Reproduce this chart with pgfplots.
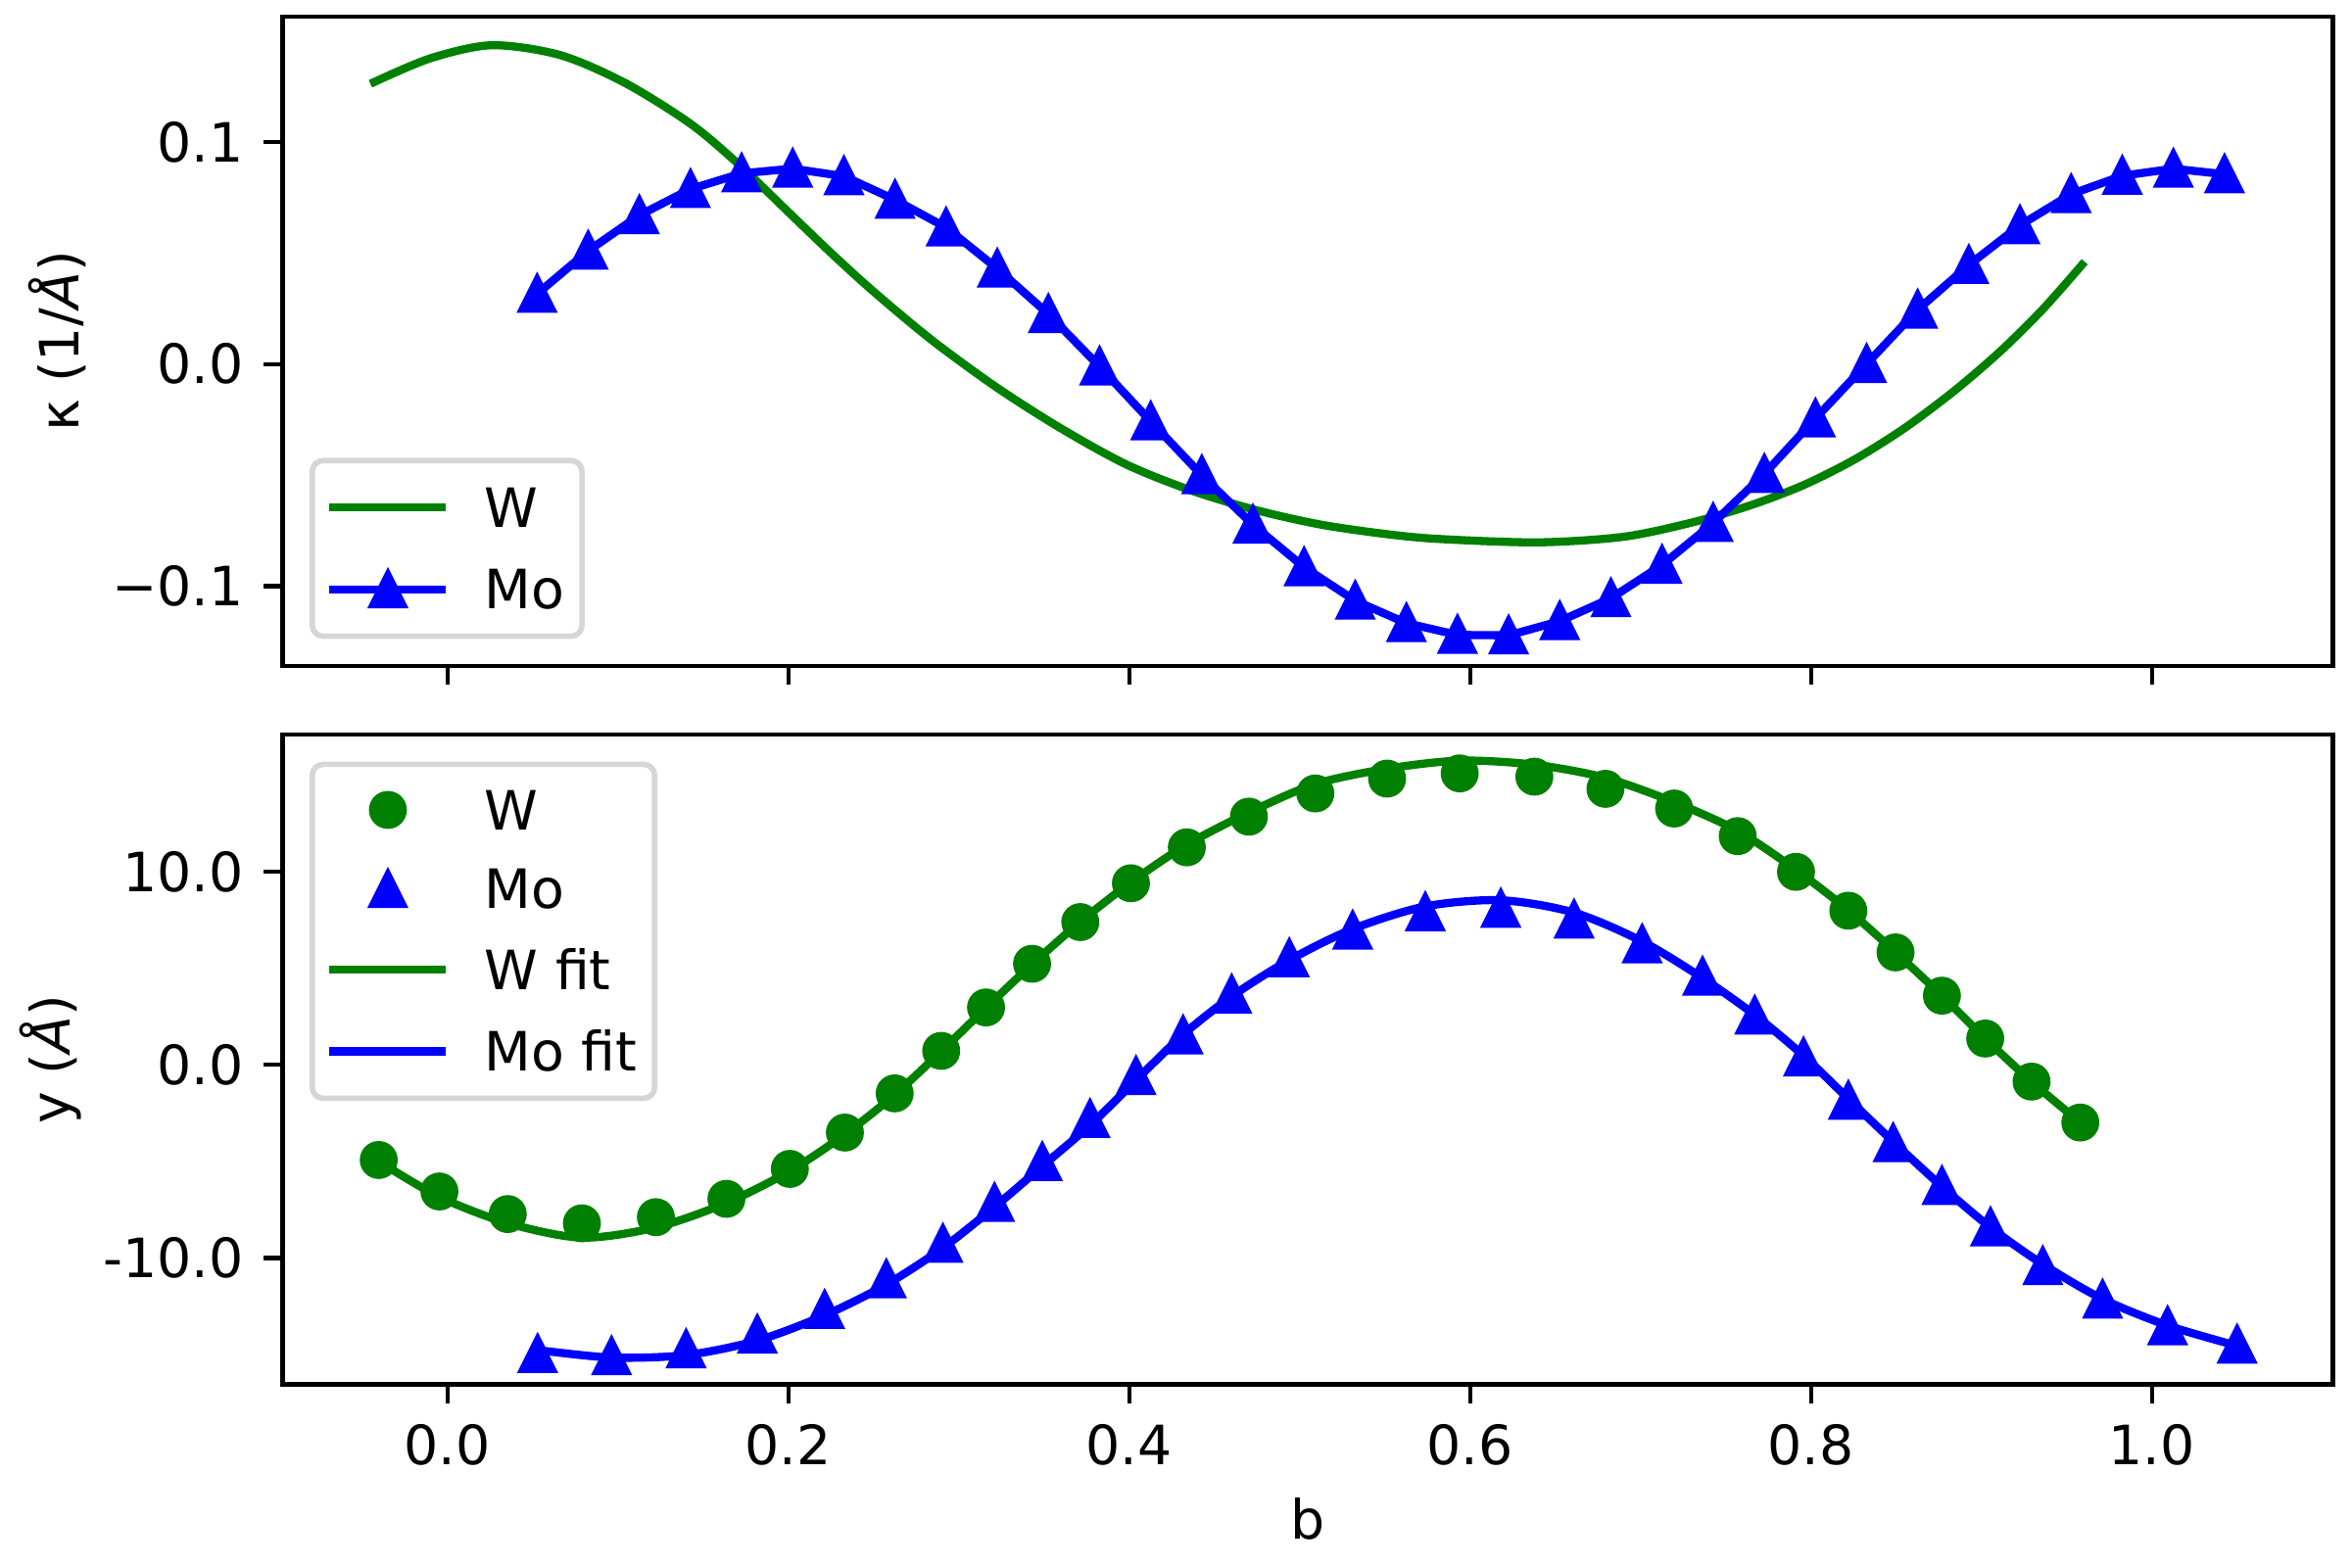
\documentclass[border=0pt]{standalone}
\usepackage{fontspec}
\setmainfont{DejaVu Sans}[ItalicFont={DejaVu Sans Oblique}]
\usepackage{pgfplots}
\pgfplotsset{compat=1.18}
\definecolor{mplgreen}{HTML}{008000}
\definecolor{mplblue}{HTML}{0000FF}
\definecolor{legedge}{HTML}{D6D6D6}

\pgfdeclareplotmark{mtri}{%
  \pgfpathmoveto{\pgfqpoint{0pt}{\pgfplotmarksize}}%
  \pgfpathlineto{\pgfqpoint{-\pgfplotmarksize}{-\pgfplotmarksize}}%
  \pgfpathlineto{\pgfqpoint{\pgfplotmarksize}{-\pgfplotmarksize}}%
  \pgfpathclose
  \pgfusepathqfillstroke}

\pgfplotsset{
  mplaxis/.style={
    scale only axis, width=378.18pt, height=119.84pt,
    xmin=-0.0968, xmax=1.1062,
    axis line style={line width=0.8pt, black},
    tick style={line width=0.8pt, black},
    major tick length=3.5pt,
    tick align=outside,
    tick pos=left,
    xtick={0,0.2,0.4,0.6,0.8,1.0},
    minor tick num=0,
    xticklabel style={anchor=north, inner sep=0pt, yshift=-3.8pt},
    yticklabel style={anchor=east, inner sep=0pt, xshift=-3.5pt},
    legend image code/.code={%
      \path (0pt,-4.9pt) (20pt,4.9pt);
      \draw[mark repeat=2, mark phase=2, #1] plot coordinates {(0pt,0pt) (10pt,0pt) (20pt,0pt)};},
    legend cell align=left,
    legend style={draw=legedge, line width=1pt, rounded corners=2pt, fill=white,
      inner xsep=3.2pt, inner ysep=3.0pt, row sep=3.8pt, column sep=7.1pt,
      nodes={inner sep=0pt, text height=7.3pt, text depth=0pt}},
  },
  trimark/.style={mark=mtri, mark size=3pt, mark options={solid, line width=1pt, line join=miter, sharp corners, fill=mplblue, draw=mplblue}},
  circmark/.style={mark=*, mark size=3pt, mark options={solid, line width=1pt, sharp corners, fill=mplgreen, draw=mplgreen}},
}

\begin{document}
\fontsize{10pt}{12pt}\selectfont
\begin{tikzpicture}
\path[use as bounding box] (-52.09pt,-33.73pt) rectangle (381.52pt,255.35pt);

% ---------- top panel ----------
\begin{axis}[mplaxis, at={(0pt,132.49pt)}, anchor=south west,
  ymin=-0.1360, ymax=0.1566,
  ytick={-0.1,0,0.1}, yticklabels={−0.1,0.0,0.1},
  xticklabels={},
  ylabel={κ (1/\textit{Å})},
  every axis y label/.style={at={(axis description cs:-0.0994,0.5)}, anchor=base, rotate=90},
  legend style={at={(0,0)}, anchor=south west, xshift=5pt, yshift=5pt}]
\addplot[color=mplgreen, line width=1.5pt, line cap=rect, line join=round, smooth] coordinates {
(-0.043,0.1270) (-0.010,0.1377) (0.026,0.1436) (0.066,0.1392) (0.104,0.1267)
(0.1425,0.1083) (0.171,0.0899) (0.200,0.0685) (0.225,0.0501) (0.2495,0.0330) (0.284,0.0109)
(0.322,-0.0104) (0.360,-0.0290) (0.3985,-0.0453) (0.437,-0.0571) (0.475,-0.0659)
(0.513,-0.0724) (0.551,-0.0766) (0.582,-0.0788) (0.640,-0.0803) (0.690,-0.0778)
(0.7305,-0.0713) (0.765,-0.0635) (0.796,-0.0544) (0.826,-0.0428) (0.855,-0.0288)
(0.884,-0.0121) (0.911,0.0057) (0.936,0.0247) (0.959,0.0447)
};
\addplot[color=mplblue, line width=1.5pt, line cap=rect, line join=round, trimark] coordinates {
(0.0526,0.0316) (0.0826,0.0510) (0.1126,0.0670) (0.1426,0.0788) (0.1726,0.0859)
(0.2026,0.0880) (0.2326,0.0846) (0.2626,0.0740) (0.2926,0.0615) (0.3226,0.0430)
(0.3526,0.0225) (0.3826,-0.0011) (0.4126,-0.0258) (0.4426,-0.0501) (0.4726,-0.0724)
(0.5026,-0.0915) (0.5326,-0.1066) (0.5626,-0.1167) (0.5926,-0.1220) (0.6226,-0.1222)
(0.6526,-0.1158) (0.6826,-0.1055) (0.7126,-0.0905) (0.7426,-0.0716) (0.7726,-0.0495)
(0.8026,-0.0245) (0.8326,0.0000) (0.8626,0.0245) (0.8926,0.0446) (0.9226,0.0625)
(0.9526,0.0765) (0.9826,0.0848) (1.0126,0.0880) (1.0426,0.0855)
};
\legend{W, Mo}
\end{axis}

% ---------- bottom panel ----------
\begin{axis}[mplaxis, at={(0pt,0pt)}, anchor=south west,
  ymin=-16.54, ymax=17.10,
  ytick={-10,0,10}, yticklabels={-10.0,0.0,10.0},
  xticklabels={0.0,0.2,0.4,0.6,0.8,1.0},
  xlabel={b},
  ylabel={y (\textit{Å})},
  every axis x label/.style={at={(axis description cs:0.5,0)}, anchor=base, yshift=-28.6pt},
  every axis y label/.style={at={(axis description cs:-0.1037,0.5)}, anchor=base, rotate=90},
  legend style={at={(0,1)}, anchor=north west, xshift=5pt, yshift=-5pt}]
\addplot[only marks, color=mplgreen, circmark] coordinates {
(-0.0403,-4.93) (-0.0047,-6.56) (0.0354,-7.73) (0.0789,-8.21) (0.1223,-7.89)
(0.1637,-6.94) (0.2009,-5.39) (0.2332,-3.51) (0.2624,-1.48) (0.2897,0.72)
(0.3160,2.97) (0.3430,5.23) (0.3713,7.39) (0.4010,9.40) (0.4338,11.26)
(0.4702,12.85) (0.5092,14.05) (0.5513,14.82) (0.5939,15.09) (0.6377,14.92)
(0.6794,14.29) (0.7197,13.27) (0.7570,11.84) (0.7912,9.99) (0.8219,7.98)
(0.8496,5.82) (0.8768,3.58) (0.9022,1.36) (0.9294,-0.87) (0.9580,-2.99)
};
\addplot[only marks, color=mplblue, trimark] coordinates {
(0.0529,-14.98) (0.0963,-15.09) (0.1400,-14.73) (0.1818,-13.97) (0.2213,-12.70)
(0.2575,-11.11) (0.2907,-9.27) (0.3210,-7.15) (0.3490,-5.03) (0.3770,-2.81)
(0.4040,-0.59) (0.4316,1.52) (0.4601,3.64) (0.4939,5.51) (0.5311,6.95)
(0.5737,7.90) (0.6180,8.08) (0.6610,7.52) (0.7009,6.24) (0.7364,4.56)
(0.7670,2.54) (0.7956,0.38) (0.8219,-1.86) (0.8482,-4.06) (0.8768,-6.28)
(0.9053,-8.42) (0.9360,-10.43) (0.9711,-12.16) (1.0092,-13.54) (1.0500,-14.49)
};
\addplot[color=mplgreen, line width=1.5pt, line cap=rect, line join=round, smooth] coordinates {
(-0.0403,-5.0) (-0.0047,-6.84) (0.0354,-8.2) (0.0789,-8.95) (0.1223,-8.42)
(0.1637,-7.15) (0.2009,-5.5) (0.2332,-3.6) (0.2624,-1.55) (0.2897,0.7)
(0.3160,2.95) (0.3430,5.2) (0.3713,7.4) (0.4010,9.45) (0.4338,11.4)
(0.4702,13.06) (0.5092,14.54) (0.5513,15.33) (0.5939,15.75) (0.6377,15.54)
(0.6794,14.86) (0.7197,13.6) (0.7570,12.11) (0.7912,10.09) (0.8219,8.0)
(0.8496,5.82) (0.8768,3.58) (0.9022,1.36) (0.9294,-0.87) (0.9580,-2.99)
};
\addplot[color=mplblue, line width=1.5pt, line cap=rect, line join=round, smooth] coordinates {
(0.0529,-14.77) (0.0963,-15.16) (0.1400,-15.03) (0.1818,-14.28) (0.2213,-12.97)
(0.2575,-11.38) (0.2907,-9.48) (0.3210,-7.36) (0.3490,-5.25) (0.3770,-3.13)
(0.4040,-0.80) (0.4316,1.56) (0.4601,3.54) (0.4939,5.42) (0.5311,7.03)
(0.5737,8.2) (0.6180,8.52) (0.6610,7.88) (0.7009,6.39) (0.7364,4.49)
(0.7670,2.58) (0.7956,0.47) (0.8219,-1.76) (0.8482,-3.98) (0.8768,-6.3)
(0.9053,-8.42) (0.9360,-10.33) (0.9711,-12.13) (1.0092,-13.5) (1.0500,-14.55)
};
\legend{W, Mo, W fit, Mo fit}
\end{axis}
\end{tikzpicture}
\end{document}
